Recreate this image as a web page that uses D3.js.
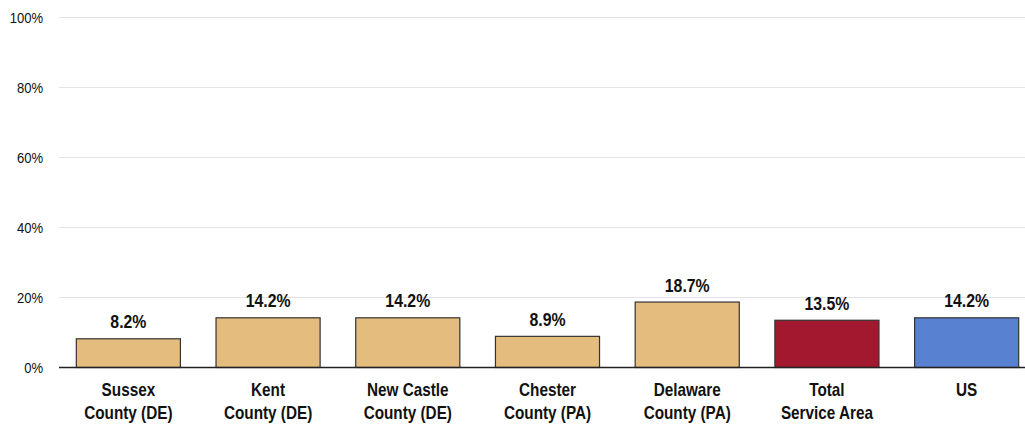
<!DOCTYPE html>
<html><head><meta charset="utf-8">
<script src="https://cdn.jsdelivr.net/npm/d3@7/dist/d3.min.js"></script>
<style>
html,body{margin:0;padding:0;background:#fff;}
svg{display:block;}
</style></head>
<body>
<svg id="chart" width="1025" height="424"></svg>
<script>
const categories = [["Sussex","County (DE)"],["Kent","County (DE)"],["New Castle","County (DE)"],["Chester","County (PA)"],["Delaware","County (PA)"],["Total","Service Area"],["US"]];
const values = [8.2, 14.2, 14.2, 8.9, 18.7, 13.5, 14.2];
const colors = ["#E4BC7E","#E4BC7E","#E4BC7E","#E4BC7E","#E4BC7E","#A2192F","#5882D1"];
const yTicks = [0, 20, 40, 60, 80, 100];

const svg = d3.select("#chart");
const W = 1025;
const font = "'Liberation Sans',Arial,sans-serif";
const x = d3.scaleBand().domain(d3.range(values.length)).range([58, 1036]).paddingInner(0.255).paddingOuter(0.1275);
const y = d3.scaleLinear().domain([0, 100]).range([367, 17]);

// gridlines
svg.append("g").selectAll("line").data(yTicks.filter(d => d > 0)).join("line")
  .attr("x1", 59).attr("x2", W).attr("y1", d => y(d) + 0.5).attr("y2", d => y(d) + 0.5)
  .attr("stroke", "#e3e3e3").attr("stroke-width", 1);

// y axis labels
const yAxis = d3.axisLeft(y).tickValues(yTicks).tickFormat(d => d + "%").tickSize(0).tickPadding(0);
const ya = svg.append("g").attr("transform", "translate(43,0)").call(yAxis);
ya.select(".domain").remove();
ya.selectAll("text").attr("font-family", font).attr("font-size", "14.5px").attr("fill", "#111")
  .attr("dy", "0.35em").attr("transform", "scale(0.9,1)");

// bars
svg.append("g").selectAll("rect").data(values).join("rect")
  .attr("x", (d, i) => x(i) + 0.5).attr("y", d => y(d) + 0.5)
  .attr("width", x.bandwidth()).attr("height", d => y(0) - y(d))
  .attr("fill", (d, i) => colors[i]).attr("stroke", "#333").attr("stroke-width", 1.2);

// zero line
svg.append("line").attr("x1", 59).attr("x2", W).attr("y1", y(0) + 0.5).attr("y2", y(0) + 0.5)
  .attr("stroke", "#222").attr("stroke-width", 1.3);

// value labels
svg.append("g").selectAll("text").data(values).join("text")
  .attr("transform", (d, i) => `translate(${x(i) + x.bandwidth() / 2 + 0.5},${y(d) - 10}) scale(0.88,1)`)
  .attr("text-anchor", "middle").attr("font-family", font).attr("font-weight", "bold")
  .attr("font-size", "18px").attr("fill", "#111").text(d => d.toFixed(1) + "%");

// category labels
const cat = svg.append("g").selectAll("text").data(categories).join("text")
  .attr("transform", (d, i) => `translate(${x(i) + x.bandwidth() / 2 + 0.5},396) scale(0.85,1)`)
  .attr("text-anchor", "middle").attr("font-family", font).attr("font-weight", "bold")
  .attr("font-size", "18px").attr("fill", "#111");
cat.selectAll("tspan").data(d => d).join("tspan")
  .attr("x", 0).attr("dy", (d, j) => j === 0 ? 0 : 23).text(d => d);
</script>
</body></html>
